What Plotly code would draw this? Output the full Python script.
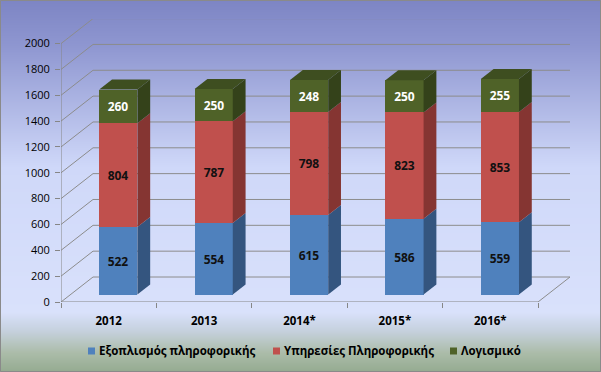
import base64, struct, zlib
import plotly.graph_objects as go

# ---------------- data ----------------
categories = ["2012", "2013", "2014*", "2015*", "2016*"]
equipment = [522, 554, 615, 586, 559]      # Εξοπλισμός πληροφορικής
services = [804, 787, 798, 823, 853]       # Υπηρεσίες Πληροφορικής
software = [260, 250, 248, 250, 255]       # Λογισμικό
y_ticks = [0, 200, 400, 600, 800, 1000, 1200, 1400, 1600, 1800, 2000]

series_names = ["Εξοπλισμός πληροφορικής", "Υπηρεσίες Πληροφορικής", "Λογισμικό"]
front_colors = ["#4f81bd", "#c0504d", "#4f6228"]
side_colors = ["#34557f", "#853532", "#34421a"]
top_color = "#3e4e20"
text_colors = ["#111111", "#111111", "#ffffff"]

# ---------------- geometry (pixels -> data units) ----------------
W, H = 601, 372
ML, MR, MT, MB = 61, 31, 19, 70
PW, PH = W - ML - MR, H - MT - MB
PX_PER_CAT = 95.4
PX_PER_UNIT = 0.1292
X0 = -0.5
X1 = X0 + PW / PX_PER_CAT
Y1 = PH / PX_PER_UNIT
DX = 32 / PX_PER_CAT       # full depth, x (data units)
DY = 25 / PX_PER_UNIT      # full depth, y (data units)
FRONT = 0.3                # bar front face position in depth
BDEPTH = 0.4               # bar depth fraction
BW = 0.4                   # bar width in category units
n = len(categories)
YMAX = y_ticks[-1]

FONT = "Open Sans, Noto Sans, sans-serif"
GRID = "#8c8c8c"

# legend layout (pixel positions of the square markers)
LEG_X = [88, 273, 450]
LEG_Y = 351

def px2paper_x(px):
    return (px - ML) / PW

def px2paper_y(py):
    return (H - MB - py) / PH

# ---------------- background gradient image ----------------
def hex2rgb(h):
    h = h.lstrip("#")
    return tuple(int(h[i:i + 2], 16) for i in (0, 2, 4))

stops = [(0.0, "#7d85c4"), (0.12, "#8e96d0"), (0.45, "#cfd8f9"), (0.84, "#d9e1fb"),
         (0.89, "#c6d1de"), (0.95, "#abbca9"), (1.0, "#95ab91")]

def grad(t):
    for (t0, c0), (t1, c1) in zip(stops[:-1], stops[1:]):
        if t0 <= t <= t1:
            f = (t - t0) / (t1 - t0) if t1 > t0 else 0
            a, b = hex2rgb(c0), hex2rgb(c1)
            return tuple(int(round(a[k] + (b[k] - a[k]) * f)) for k in range(3))
    return hex2rgb(stops[-1][1])

def make_png(height):
    raw = b"".join(b"\x00" + bytes(grad(i / (height - 1))) for i in range(height))
    def chunk(tag, data):
        return struct.pack(">I", len(data)) + tag + data + struct.pack(">I", zlib.crc32(tag + data) & 0xffffffff)
    png = b"\x89PNG\r\n\x1a\n" + chunk(b"IHDR", struct.pack(">IIBBBBB", 1, height, 8, 2, 0, 0, 0))
    png += chunk(b"IDAT", zlib.compress(raw)) + chunk(b"IEND", b"")
    return "data:image/png;base64," + base64.b64encode(png).decode()

fig = go.Figure()

# ---------------- bars (front faces) ----------------
series = [equipment, services, software]
bases = [[0] * n]
for s in series[:-1]:
    bases.append([b + v for b, v in zip(bases[-1], s)])

xf = [i + FRONT * DX for i in range(n)]
for k, (name, vals) in enumerate(zip(series_names, series)):
    fig.add_trace(go.Bar(
        x=xf, y=vals, base=[b + FRONT * DY for b in bases[k]], width=BW,
        name=name, marker=dict(color=front_colors[k], line=dict(width=0)),
        text=[str(v) for v in vals], textposition="inside", insidetextanchor="middle",
        textangle=0, constraintext="none",
        textfont=dict(family=FONT, size=12, color=text_colors[k], weight="bold"),
        hoverinfo="skip", showlegend=False,
    ))

# ---------------- side and top faces ----------------
sdx, sdy = BDEPTH * DX, BDEPTH * DY
for i in range(n):
    xl = xf[i] - BW / 2
    xr = xf[i] + BW / 2
    for k, vals in enumerate(series):
        y0 = bases[k][i] + FRONT * DY
        y1 = y0 + vals[i]
        fig.add_trace(go.Scatter(
            x=[xr, xr + sdx, xr + sdx, xr, xr], y=[y0, y0 + sdy, y1 + sdy, y1, y0],
            fill="toself", fillcolor=side_colors[k], mode="lines", line=dict(width=0),
            showlegend=False, hoverinfo="skip"))
    ytop = bases[-1][i] + series[-1][i] + FRONT * DY
    fig.add_trace(go.Scatter(
        x=[xl, xl + sdx, xr + sdx, xr, xl], y=[ytop, ytop + sdy, ytop + sdy, ytop, ytop],
        fill="toself", fillcolor=top_color, mode="lines", line=dict(width=0),
        showlegend=False, hoverinfo="skip"))

# ---------------- walls / grid ----------------
shapes = []
for v in y_ticks:
    shapes.append(dict(type="line", x0=X0, y0=v, x1=X0 + DX, y1=v + DY,
                       line=dict(color=GRID, width=1), layer="below"))
    shapes.append(dict(type="line", x0=X0 + DX, y0=v + DY, x1=n - 0.5 + DX, y1=v + DY,
                       line=dict(color=GRID, width=1), layer="below"))
shapes.append(dict(type="line", x0=n - 0.5, y0=0, x1=n - 0.5 + DX, y1=DY,
                   line=dict(color=GRID, width=1), layer="below"))
shapes.append(dict(type="line", x0=X0, y0=0, x1=n - 0.5, y1=0,
                   line=dict(color="#868686", width=1), layer="below"))
shapes.append(dict(type="line", x0=X0, y0=0, x1=X0, y1=YMAX,
                   line=dict(color="#868686", width=1), layer="below"))
# outer border
shapes.append(dict(type="rect", xref="paper", yref="paper",
                   x0=px2paper_x(0.5), x1=px2paper_x(W - 0.5),
                   y0=px2paper_y(H - 0.5), y1=px2paper_y(0.5),
                   line=dict(color="#8a8a8a", width=1), layer="above"))

# ---------------- legend (manual) ----------------
annotations = []
SQ = 7
for k, name in enumerate(series_names):
    shapes.append(dict(type="rect", xref="paper", yref="paper",
                       x0=px2paper_x(LEG_X[k]), x1=px2paper_x(LEG_X[k] + SQ),
                       y0=px2paper_y(LEG_Y + SQ / 2), y1=px2paper_y(LEG_Y - SQ / 2),
                       fillcolor=front_colors[k], line=dict(width=0), layer="above"))
    annotations.append(dict(xref="paper", yref="paper", x=px2paper_x(LEG_X[k] + SQ + 2),
                            y=px2paper_y(LEG_Y), xanchor="left", yanchor="middle",
                            text=name, showarrow=False,
                            font=dict(family=FONT, size=11.5, color="#000000", weight="bold")))

fig.update_layout(
    width=W, height=H,
    margin=dict(l=ML, r=MR, t=MT, b=MB, pad=0, autoexpand=False),
    paper_bgcolor="rgba(0,0,0,0)", plot_bgcolor="rgba(0,0,0,0)",
    barmode="overlay", bargap=0,
    shapes=shapes, annotations=annotations,
    images=[dict(source=make_png(H), xref="paper", yref="paper",
                 x=px2paper_x(0), y=px2paper_y(0), sizex=W / PW, sizey=H / PH,
                 xanchor="left", yanchor="top", sizing="stretch", layer="below")],
    xaxis=dict(range=[X0, X1], showgrid=False, zeroline=False, showline=False,
               automargin=False,
               tickmode="array", tickvals=list(range(n)), ticktext=categories,
               ticks="", ticklabelstandoff=10,
               tickfont=dict(family=FONT, size=11.5, color="#000000", weight="bold"),
               minor=dict(tickmode="array", tickvals=[i - 0.5 for i in range(n + 1)],
                          ticks="outside", ticklen=5, tickcolor="#868686", showgrid=False)),
    yaxis=dict(range=[0, Y1], showgrid=False, zeroline=False, showline=False,
               automargin=False,
               tickmode="array", tickvals=y_ticks, ticks="outside", ticklen=5,
               tickcolor="#868686", ticklabelstandoff=3,
               tickfont=dict(family=FONT, size=11, color="#000000")),
    showlegend=False,
)

fig.write_html("out.html", config={"displayModeBar": False},
               post_script="document.body.style.margin='0';document.body.style.padding='0';"
                           "document.body.style.overflow='hidden';")
